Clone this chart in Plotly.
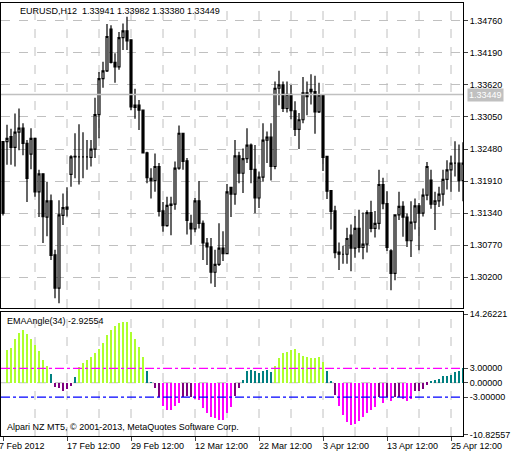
import plotly.graph_objects as go

opens = [1.3261,1.3261,1.3270,1.3251,1.3278,1.3285,1.3258,1.3239,1.3267,1.3172,
         1.3204,1.3127,1.3156,1.3060,1.3001,1.3130,1.3145,1.3203,1.3234,1.3234,
         1.3234,1.3234,1.3233,1.3248,1.3309,1.3373,1.3387,1.3461,1.3402,1.3394,
         1.3446,1.3458,1.3442,1.3322,1.3326,1.3317,1.3241,1.3196,1.3192,1.3217,
         1.3138,1.3112,1.3150,1.3150,1.3214,1.3276,1.3227,1.3116,1.3106,1.3156,
         1.3116,1.3081,1.3074,1.3029,1.3043,1.3072,1.3062,1.3180,1.3168,1.3236,
         1.3205,1.3231,1.3255,1.3212,1.3161,1.3198,1.3264,1.3269,1.3217,1.3356,
         1.3362,1.3320,1.3345,1.3316,1.3283,1.3300,1.3348,1.3354,1.3350,1.3314,
         1.3344,1.3235,1.3174,1.3138,1.3065,1.3061,1.3061,1.3095,1.3072,1.3107,
         1.3073,1.3079,1.3135,1.3107,1.3116,1.3185,1.3151,1.3067,1.3027,1.3131,
         1.3146,1.3127,1.3085,1.3118,1.3147,1.3134,1.3166,1.3193,1.3150,1.3156,
         1.3168,1.3194,1.3211,1.3223,1.3223,1.3192]
highs = [1.3262,1.3291,1.3284,1.3311,1.3320,1.3294,1.3264,1.3285,1.3267,1.3211,
         1.3205,1.3190,1.3167,1.3069,1.3157,1.3169,1.3180,1.3237,1.3276,1.3292,
         1.3278,1.3264,1.3264,1.3339,1.3385,1.3403,1.3470,1.3468,1.3418,1.3456,
         1.3471,1.3483,1.3443,1.3355,1.3335,1.3317,1.3243,1.3214,1.3240,1.3223,
         1.3154,1.3163,1.3163,1.3226,1.3290,1.3276,1.3232,1.3131,1.3161,1.3191,
         1.3121,1.3090,1.3090,1.3069,1.3116,1.3102,1.3186,1.3181,1.3264,1.3243,
         1.3249,1.3285,1.3258,1.3255,1.3208,1.3294,1.3279,1.3294,1.3368,1.3387,
         1.3368,1.3368,1.3362,1.3333,1.3312,1.3376,1.3368,1.3381,1.3378,1.3366,
         1.3345,1.3236,1.3174,1.3147,1.3082,1.3076,1.3108,1.3114,1.3129,1.3140,
         1.3135,1.3139,1.3156,1.3138,1.3211,1.3197,1.3173,1.3070,1.3132,1.3172,
         1.3155,1.3134,1.3155,1.3160,1.3152,1.3178,1.3225,1.3211,1.3172,1.3181,
         1.3211,1.3228,1.3236,1.3262,1.3256,1.3260]
lows = [1.3130,1.3220,1.3220,1.3217,1.3246,1.3237,1.3154,1.3212,1.3163,1.3127,
        1.3081,1.3093,1.3051,1.2983,1.2974,1.3113,1.3128,1.3181,1.3196,1.3185,
        1.3196,1.3211,1.3217,1.3232,1.3267,1.3357,1.3385,1.3400,1.3366,1.3389,
        1.3424,1.3424,1.3317,1.3302,1.3282,1.3240,1.3187,1.3160,1.3172,1.3128,
        1.3101,1.3110,1.3095,1.3140,1.3211,1.3211,1.3096,1.3078,1.3100,1.3107,
        1.3051,1.3042,1.3009,1.3003,1.3040,1.3049,1.3061,1.3127,1.3149,1.3187,
        1.3170,1.3223,1.3187,1.3134,1.3143,1.3190,1.3223,1.3192,1.3212,1.3326,
        1.3314,1.3313,1.3301,1.3271,1.3248,1.3294,1.3308,1.3327,1.3275,1.3312,
        1.3209,1.3159,1.3105,1.3054,1.3033,1.3044,1.3044,1.3031,1.3055,1.3064,
        1.3052,1.3064,1.3100,1.3091,1.3105,1.3141,1.3067,1.2997,1.3015,1.3122,
        1.3092,1.3074,1.3056,1.3105,1.3068,1.3128,1.3157,1.3142,1.3104,1.3145,
        1.3147,1.3176,1.3172,1.3199,1.3172,1.3155]
closes = [1.3134,1.3267,1.3251,1.3278,1.3285,1.3258,1.3196,1.3267,1.3172,1.3204,
          1.3128,1.3156,1.3059,1.3001,1.3131,1.3144,1.3141,1.3234,1.3235,1.3234,
          1.3234,1.3234,1.3248,1.3309,1.3373,1.3387,1.3448,1.3402,1.3394,1.3446,
          1.3458,1.3440,1.3323,1.3326,1.3317,1.3241,1.3197,1.3192,1.3217,1.3137,
          1.3112,1.3148,1.3148,1.3214,1.3276,1.3226,1.3121,1.3106,1.3156,1.3116,
          1.3081,1.3074,1.3029,1.3043,1.3072,1.3062,1.3172,1.3168,1.3236,1.3205,
          1.3231,1.3255,1.3212,1.3161,1.3198,1.3264,1.3269,1.3217,1.3356,1.3362,
          1.3320,1.3345,1.3316,1.3283,1.3300,1.3348,1.3341,1.3350,1.3314,1.3344,
          1.3233,1.3173,1.3137,1.3064,1.3061,1.3061,1.3089,1.3072,1.3107,1.3073,
          1.3079,1.3135,1.3107,1.3116,1.3185,1.3151,1.3073,1.3027,1.3131,1.3146,
          1.3127,1.3085,1.3118,1.3147,1.3134,1.3166,1.3217,1.3150,1.3156,1.3168,
          1.3194,1.3211,1.3223,1.3223,1.3192,1.3223]

angle = [None,
         6.8,7.2,9.2,10.3,11.0,10.1,9.1,7.9,6.6,4.7,3.5,1.8,-0.8,-1.2,-1.7,-1.4,-0.6,
         1.1,3.2,4.2,4.7,5.4,6.1,7.0,8.2,10.0,11.0,11.9,12.4,12.7,12.6,10.6,9.1,7.5,5.3,
         2.5,0.05,-1.0,-2.9,-4.9,-5.6,-5.6,-4.9,-4.2,-2.9,-2.8,-2.9,-3.3,-3.5,-5.2,-6.4,
         -7.1,-7.3,-7.7,-7.7,-6.4,-5.0,-2.8,-1.0,0.6,2.5,2.7,2.5,2.1,2.5,2.7,2.3,3.5,5.2,
         6.1,6.5,6.8,7.0,6.1,5.6,5.3,5.1,5.1,5.4,4.4,2.5,0.2,-2.6,-4.9,-6.8,-8.2,-8.9,
         -8.7,-8.0,-7.1,-6.3,-5.7,-5.0,-2.9,-4.3,-2.9,-3.8,-2.9,-2.9,-3.3,-3.8,-3.3,-1.7,
         -1.7,-1.4,-0.4,0.35,0.6,0.8,1.4,1.5,1.6,2.2,2.5,3.0]

price_ticks = [1.34760,1.34190,1.33620,1.33050,1.32480,1.31910,1.31340,1.30770,1.30200]
ind_ticks = [14.26221,3.0,0.0,-3.0,-10.82557]
date_idx = [0,16,32,48,64,80,96,112]
date_labels = ["7 Feb 2012","17 Feb 12:00","29 Feb 12:00","12 Mar 12:00","22 Mar 12:00",
               "3 Apr 12:00","13 Apr 12:00","25 Apr 12:00"]
grid_idx = list(range(8,116,8))
bid = 1.33449
title_txt = "EURUSD,H12  1.33941 1.33982 1.33380 1.33449"
ind_txt = "EMAAngle(34) -2.92554"
copy_txt = "Alpari NZ MT5, © 2001-2013, MetaQuotes Software Corp."

x = list(range(len(opens)))

def col(v):
    if v is None: return "#000"
    if v > 3: return "#ADFF2F"
    if v >= 0: return "#008080"
    if v >= -3: return "#800080"
    return "#FF00FF"

F = "Liberation Sans"
FS = 9
fig = go.Figure()
fig.add_trace(go.Candlestick(x=x, open=opens, high=highs, low=lows, close=closes,
    increasing=dict(line=dict(color="black", width=1.2), fillcolor="white"),
    decreasing=dict(line=dict(color="black", width=1.2), fillcolor="black"),
    whiskerwidth=0, xaxis="x", yaxis="y", showlegend=False))
fig.add_trace(go.Bar(x=x, y=angle, marker_color=[col(v) for v in angle], marker_line_width=0,
    width=0.5, xaxis="x2", yaxis="y2", showlegend=False))

XR = [-0.5, 115]
ax = dict(range=XR, showgrid=False, zeroline=False, showticklabels=False, showline=True,
          linecolor="black", mirror=True, fixedrange=True)
fig.update_layout(
    width=516, height=457, margin=dict(l=1, r=53, t=3, b=21),
    paper_bgcolor="white", plot_bgcolor="white", bargap=0,
    font=dict(family=F, size=FS, color="black"),
    xaxis=dict(ax, domain=[0,1], rangeslider=dict(visible=False)),
    xaxis2=dict(ax, domain=[0,1], anchor="y2", ticks="outside", ticklen=4,
                tickvals=date_idx, ticktext=["" for _ in date_idx]),
    yaxis=dict(domain=[0.2956,1], range=[1.29655,1.35075], side="right", tickvals=price_ticks,
               ticktext=[f"{v:.5f}" for v in price_ticks], ticks="outside", ticklen=4,
               showgrid=True, gridcolor="#C0C0C0", griddash="dash", zeroline=False,
               showline=True, linecolor="black", mirror=True, fixedrange=True),
    yaxis2=dict(domain=[0,0.2864], range=[-11.1,14.73], side="right", anchor="x2",
                tickvals=ind_ticks, ticktext=[f"{v:.5f}" for v in ind_ticks],
                ticks="outside", ticklen=4, showgrid=False, zeroline=False,
                showline=True, linecolor="black", mirror=True, fixedrange=True),
)
for g in grid_idx:
    for xa, ya in (("x","y"),("x2","y2")):
        fig.add_shape(type="line", xref=xa, yref=ya+" domain", x0=g, x1=g, y0=0, y1=1,
                      line=dict(color="#C0C0C0", width=1, dash="dash"), layer="below")
fig.add_shape(type="line", xref="x domain", yref="y", x0=0, x1=1, y0=bid, y1=bid,
              line=dict(color="#C0C0C0", width=1.5))
fig.add_shape(type="line", xref="x2 domain", yref="y2", x0=0, x1=1, y0=0, y1=0,
              line=dict(color="#C0C0C0", width=1, dash="dash"), layer="below")
fig.add_shape(type="line", xref="x2 domain", yref="y2", x0=0, x1=1, y0=3, y1=3,
              line=dict(color="#FF00FF", width=1.2, dash="dashdot"))
fig.add_shape(type="line", xref="x2 domain", yref="y2", x0=0, x1=1, y0=-3, y1=-3,
              line=dict(color="#0000FF", width=1.2, dash="dashdot"))
fig.add_annotation(xref="paper", yref="y", x=1.0, y=bid, xanchor="left", xshift=4,
                   text=f"{bid:.5f}", showarrow=False, bgcolor="#C0C0C0",
                   font=dict(color="white", size=FS), borderpad=1)
fig.add_annotation(xref="paper", yref="paper", x=0.036, y=1, yshift=-1, xanchor="left", yanchor="top",
                   text=title_txt, showarrow=False, font=dict(size=FS))
fig.add_annotation(xref="paper", yref="paper", x=0.008, y=0.2864, yshift=-2, xanchor="left", yanchor="top",
                   text=ind_txt, showarrow=False, font=dict(size=FS))
fig.add_annotation(xref="paper", yref="paper", x=0.008, y=0, yshift=2, xanchor="left", yanchor="bottom",
                   text=copy_txt, showarrow=False, font=dict(size=FS))
for i, t in zip(date_idx, date_labels):
    fig.add_annotation(xref="x2", yref="paper", x=i, y=0, yshift=-3, xanchor="left", yanchor="top",
                       xshift=-6 if i == 0 else -2, text=t, showarrow=False, font=dict(size=FS))
fig.write_html("out.html", config={"displayModeBar": False},
               post_script="document.body.style.margin='0';")
